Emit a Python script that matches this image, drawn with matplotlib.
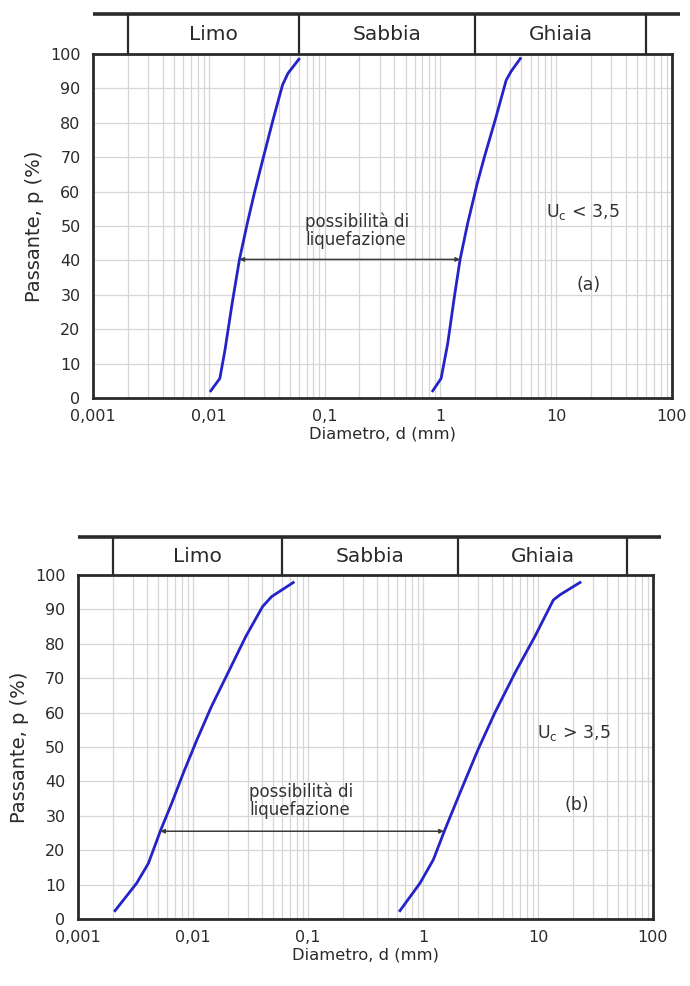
import numpy as np
import matplotlib.pyplot as plt
from matplotlib.ticker import FixedLocator, LogLocator, NullFormatter

# curva (a) - Uc < 3,5
a1_d = [0.0104, 0.01245, 0.0138, 0.0159, 0.0184, 0.0215, 0.0247, 0.0292,
        0.0358, 0.0433, 0.0483, 0.060]
a1_p = [2.1, 5.7, 14, 27.5, 40.3, 50.8, 59.5, 69.2, 80.8, 91, 94.4, 98.5]
a2_d = [0.859, 1.014, 1.157, 1.32, 1.479, 1.72, 2.08, 2.40, 3.00, 3.70,
        4.07, 4.90]
a2_p = [2.1, 5.7, 15.9, 29.4, 40.3, 50.8, 62.4, 70.1, 81.3, 92.4, 94.9, 98.7]

# curva (b) - Uc > 3,5
b1_d = [0.0021, 0.00324, 0.0041, 0.00525, 0.00653, 0.00824, 0.0108,
        0.01445, 0.0194, 0.0288, 0.0403, 0.0483, 0.0745]
b1_p = [2.4, 10.4, 16.2, 25.9, 33.6, 42.4, 52, 61.7, 70.4, 82.1, 90.8, 93.7,
        97.8]
b2_d = [0.631, 0.942, 1.23, 1.55, 2.15, 3.0, 4.2, 6.40, 9.40, 13.6, 15.5,
        23.2]
b2_p = [2.4, 10.4, 17.2, 25.9, 37.5, 49.1, 59.8, 71.9, 82.1, 92.7, 94.2, 97.8]

# limiti granulometrici (mm)
limiti = [0.002, 0.06, 2, 60]
classi = ["Limo", "Sabbia", "Ghiaia"]

xticks = [0.001, 0.01, 0.1, 1, 10, 100]
xlabels = ["0,001", "0,01", "0,1", "1", "10", "100"]

blu = "#2323c8"
grigio = "#d6d6d6"
scuro = "#2a2a2a"


def pannello(ax, hax, curve, freccia, testo_pos, uc, uc_pos, lettera, lett_pos):
    ax.set_xscale("log")
    ax.set_xlim(0.001, 100)
    ax.set_ylim(0, 100)
    ax.xaxis.set_major_locator(FixedLocator(xticks))
    ax.set_xticklabels(xlabels)
    ax.xaxis.set_minor_locator(LogLocator(base=10, subs=np.arange(2, 10)))
    ax.xaxis.set_minor_formatter(NullFormatter())
    ax.set_yticks(range(0, 101, 10))
    ax.tick_params(which="both", length=0, labelsize=11.5, colors=scuro)
    ax.tick_params(axis="x", pad=8)
    ax.tick_params(axis="y", pad=9)
    ax.grid(True, which="both", axis="x", color=grigio, lw=0.9)
    ax.grid(True, which="major", axis="y", color=grigio, lw=0.9)
    ax.set_axisbelow(True)
    for s in ax.spines.values():
        s.set_linewidth(2)
        s.set_color(scuro)

    for d, p in curve:
        ax.plot(d, p, color=blu, lw=2, solid_joinstyle="round")

    x1, x2, yf = freccia
    ax.annotate("", xy=(x2, yf), xytext=(x1, yf),
                arrowprops=dict(arrowstyle="<|-|>", color="#3a3a3a", lw=1.1,
                                mutation_scale=6, shrinkA=0, shrinkB=0))
    ax.text(testo_pos[0], testo_pos[1], "possibilità di\nliquefazione",
            ha="left", va="center", fontsize=12, color="#333333", linespacing=1.0)
    ax.text(uc_pos[0], uc_pos[1], uc, ha="left", va="center", fontsize=12.5,
            color="#333333")
    ax.text(lett_pos[0], lett_pos[1], lettera, ha="center", va="center",
            fontsize=12.5, color="#333333")

    ax.set_xlabel("Diametro, d (mm)", fontsize=11.8, labelpad=2, color=scuro)
    ax.set_ylabel("Passante, p (%)", fontsize=14, labelpad=4, color=scuro)

    # intestazione con le classi
    hax.set_xscale("log")
    hax.set_xlim(0.001, 100)
    hax.set_ylim(0, 1)
    hax.axis("off")
    hax.plot([0, 1.014], [1, 1], transform=hax.transAxes, color=scuro,
             lw=2.6, clip_on=False, solid_capstyle="butt")
    for l in limiti:
        hax.plot([l, l], [0, 1], color=scuro, lw=1.6)
    for i, c in enumerate(classi):
        xc = np.sqrt(limiti[i] * limiti[i + 1])
        hax.text(xc, 0.48, c, ha="center", va="center", fontsize=14.5,
                 color=scuro)


fig = plt.figure(figsize=(6.9, 9.86), dpi=100)

ax1 = fig.add_axes([0.1348, 0.5963, 0.8391, 0.3489])
h1 = fig.add_axes([0.1348, 0.9452, 0.8391, 0.0406])
pannello(ax1, h1, [(a1_d, a1_p), (a2_d, a2_p)], (0.0184, 1.479, 40.3),
         (0.068, 48.5), r"U$_\mathrm{c}$ < 3,5", (8.2, 54), "(a)", (19.2, 33))

ax2 = fig.add_axes([0.1130, 0.0680, 0.8333, 0.3489])
h2 = fig.add_axes([0.1130, 0.4168, 0.8333, 0.0385])
pannello(ax2, h2, [(b1_d, b1_p), (b2_d, b2_p)], (0.0052, 1.52, 25.5),
         (0.031, 34.5), r"U$_\mathrm{c}$ > 3,5", (9.8, 54), "(b)", (21.8, 33))

fig.savefig("out.png", dpi=100)
